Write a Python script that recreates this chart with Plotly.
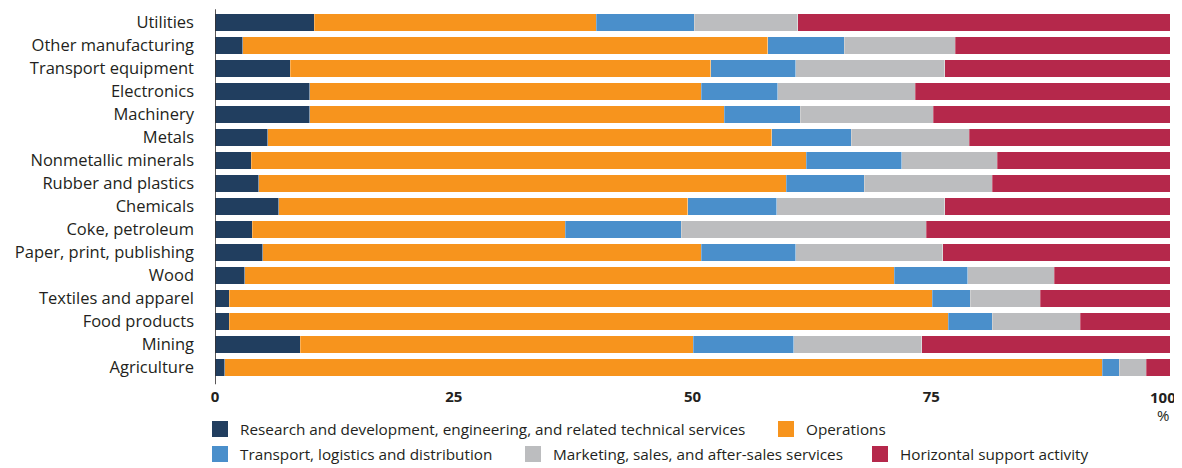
import plotly.graph_objects as go

categories = ["Utilities", "Other manufacturing", "Transport equipment", "Electronics",
              "Machinery", "Metals", "Nonmetallic minerals", "Rubber and plastics",
              "Chemicals", "Coke, petroleum", "Paper, print, publishing", "Wood",
              "Textiles and apparel", "Food products", "Mining", "Agriculture"]

rd = [10.4, 2.9, 7.9, 9.9, 9.9, 5.5, 3.8, 4.6, 6.7, 3.9, 5.0, 3.1, 1.5, 1.5, 8.9, 1.0]
operations = [29.5, 55.0, 44.0, 41.0, 43.4, 52.8, 58.1, 55.2, 42.8, 32.8, 45.9, 68.0, 73.6, 75.3, 41.2, 91.9]
transport = [10.3, 8.0, 8.9, 8.0, 8.0, 8.3, 10.0, 8.2, 9.3, 12.1, 9.9, 7.7, 4.0, 4.6, 10.5, 1.8]
marketing = [10.8, 11.6, 15.6, 14.4, 13.9, 12.4, 10.0, 13.4, 17.6, 25.7, 15.4, 9.1, 7.3, 9.2, 13.4, 2.8]
horizontal = [39.0, 22.5, 23.6, 26.7, 24.8, 21.0, 18.1, 18.6, 23.6, 25.5, 23.8, 12.1, 13.6, 9.4, 26.0, 2.5]

series_names = [
    "Research and development, engineering, and related technical services",
    "Operations",
    "Transport, logistics and distribution",
    "Marketing, sales, and after-sales services",
    "Horizontal support activity",
]
series_values = [rd, operations, transport, marketing, horizontal]
series_colors = ["#213e5f", "#f7941d", "#4a8fcb", "#bcbdbf", "#b5284b"]

tick_vals = [0, 25, 50, 75, 100]
tick_text = ["0", "25", "50", "75", "100"]

# the page body has an 8px margin, so the figure is drawn 8px smaller
W, H = 1174, 460
OFF = 8
FONT = "Open Sans"
TXT = "#231f20"

# legend placement on screen: square left x, centre y
legend_pos = [(212, 429), (778, 429), (212, 454), (525, 454), (872, 454)]

fig = go.Figure()
for name, vals, color in zip(series_names, series_values, series_colors):
    fig.add_trace(go.Bar(
        y=categories, x=vals, name=name, orientation="h", showlegend=False,
        marker=dict(color=color, line=dict(color="rgba(255,255,255,0.45)", width=0.6)),
    ))

layout_legends = {}
for i, (name, color) in enumerate(zip(series_names, series_colors)):
    key = "legend" if i == 0 else f"legend{i+1}"
    # legend key only (no data points)
    fig.add_trace(go.Scatter(
        x=[None], y=[None], mode="markers", name=name, legend=key, showlegend=True,
        marker=dict(symbol="square", size=16, color=color, line=dict(width=0)),
        hoverinfo="skip",
    ))
    sx, sy = legend_pos[i]
    layout_legends[key] = dict(
        orientation="h", xref="container", yref="container",
        x=(sx - 12 - OFF) / W, xanchor="left", y=1 - (sy - OFF) / H, yanchor="middle",
        font=dict(family=FONT, size=15.3, color=TXT), itemwidth=30,
        bgcolor="rgba(0,0,0,0)",
    )

fig.update_layout(
    barmode="stack",
    bargap=0.22,
    width=W, height=H,
    margin=dict(l=207, r=12, t=3, b=89, autoexpand=False),
    plot_bgcolor="white", paper_bgcolor="white",
    font=dict(family=FONT, size=15, color=TXT),
    showlegend=True,
    hovermode=False,
    **layout_legends,
)
fig.update_yaxes(categoryorder="array", categoryarray=categories[::-1],
                 showgrid=False, showline=False, zeroline=False, ticks="",
                 ticklabelstandoff=20,
                 tickfont=dict(family=FONT, size=16.5, color=TXT))
# last tick label ("100") is set as an annotation so it can sit inside the page edge
fig.update_xaxes(range=[0, 100], tickvals=tick_vals[:-1], ticktext=tick_text[:-1],
                 showgrid=False, zeroline=False, showline=False,
                 ticks="outside", ticklen=4, tickcolor="rgba(0,0,0,0)",
                 tickfont=dict(family=FONT, size=15, color=TXT, weight="bold"))
fig.add_annotation(text="<b>" + tick_text[-1] + "</b>", xref="x", yref="paper",
                   x=tick_vals[-1] - 0.7, y=-0.048, showarrow=False,
                   xanchor="center", yanchor="middle",
                   font=dict(family=FONT, size=15, color=TXT))
fig.add_annotation(text="%", xref="x", yref="paper", x=tick_vals[-1] - 0.7, y=-0.099,
                   showarrow=False, xanchor="center", yanchor="middle",
                   font=dict(family=FONT, size=15, color=TXT))
fig.add_shape(type="line", xref="x", yref="paper", x0=0, x1=0, y0=-0.014, y1=1.005,
              line=dict(color=TXT, width=1.5))

fig.write_html("out.html")
